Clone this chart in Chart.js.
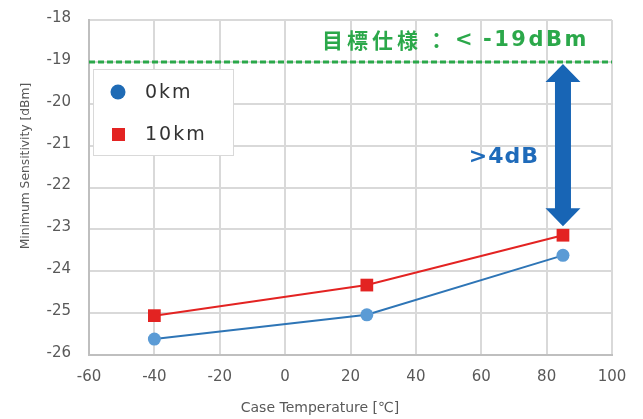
<!DOCTYPE html>
<html>
<head>
<meta charset="utf-8">
<script src="https://cdn.jsdelivr.net/npm/chart.js@4.4.0/dist/chart.umd.min.js"></script>
<style>
html,body{margin:0;padding:0;background:#fff;}
#wrap{width:643px;height:419px;position:relative;}
</style>
</head>
<body>
<div id="wrap"><canvas id="c" width="643" height="419"></canvas></div>
<script>
const temperatures = [-40, 25, 85];
const sens0km = [-25.62, -25.04, -23.62];
const sens10km = [-25.06, -24.33, -23.14];
const seriesNames = ['0km', '10km'];
const specLimit = -19;
const specLabelParts = ['目標仕様', '：', '<', '-19dBm'];
const marginLabel = '>4dB';
const xTitle = 'Case Temperature [℃]';
const yTitle = 'Minimum Sensitivity [dBm]';

const toPts = (xs, ys) => xs.map((x, i) => ({x: x, y: ys[i]}));

const overlay = {
  id: 'overlay',
  afterDatasetsDraw(chart) {
    const ctx = chart.ctx, xs = chart.scales.x, ys = chart.scales.y, a = chart.chartArea;
    ctx.save();
    // axis titles
    ctx.fillStyle = '#595959';
    ctx.font = '14px "DejaVu Sans"';
    ctx.textAlign = 'center';
    ctx.textBaseline = 'middle';
    ctx.fillText(xTitle, 320, 408);
    ctx.save();
    ctx.translate(26, 166);
    ctx.rotate(-Math.PI / 2);
    ctx.font = '12.3px "DejaVu Sans"';
    ctx.fillText(yTitle, 0, 0);
    ctx.restore();
    // spec line
    const yl = ys.getPixelForValue(specLimit);
    ctx.strokeStyle = '#2BA84A';
    ctx.lineWidth = 3;
    ctx.setLineDash([6, 3]);
    ctx.beginPath(); ctx.moveTo(a.left, yl); ctx.lineTo(a.right, yl); ctx.stroke();
    ctx.setLineDash([]);
    // spec label
    ctx.fillStyle = '#2BA84A';
    ctx.textAlign = 'left';
    ctx.font = 'bold 21px "Noto Sans CJK JP"';
    ctx.letterSpacing = '4px';
    ctx.fillText(specLabelParts[0], 322, 40);
    ctx.letterSpacing = '0px';
    ctx.fillText(specLabelParts[1], 426, 40);
    ctx.font = 'bold 21px "DejaVu Sans"';
    ctx.fillText(specLabelParts[2], 455, 41);
    ctx.letterSpacing = '2.5px';
    ctx.fillText(specLabelParts[3], 483, 41);
    // arrow
    const ax = xs.getPixelForValue(85);
    const yTop = yl + 2, yBot = ys.getPixelForValue(sens10km[2]) - 9;
    const hw = 17.5, hh = 18, sw = 8;
    ctx.fillStyle = '#1865B5';
    ctx.beginPath();
    ctx.moveTo(ax, yTop);
    ctx.lineTo(ax + hw, yTop + hh);
    ctx.lineTo(ax + sw, yTop + hh);
    ctx.lineTo(ax + sw, yBot - hh);
    ctx.lineTo(ax + hw, yBot - hh);
    ctx.lineTo(ax, yBot);
    ctx.lineTo(ax - hw, yBot - hh);
    ctx.lineTo(ax - sw, yBot - hh);
    ctx.lineTo(ax - sw, yTop + hh);
    ctx.lineTo(ax - hw, yTop + hh);
    ctx.closePath();
    ctx.fill();
    // margin label
    ctx.fillStyle = '#1F6BBA';
    ctx.font = 'bold 22px "DejaVu Sans"';
    ctx.letterSpacing = '1px';
    ctx.textAlign = 'right';
    ctx.fillText(marginLabel, ax - 24, 157);
    // legend
    ctx.letterSpacing = '2px';
    ctx.fillStyle = '#ffffff';
    ctx.fillRect(93.5, 69.5, 140, 86);
    ctx.strokeStyle = '#d9d9d9';
    ctx.lineWidth = 1;
    ctx.strokeRect(93.5, 69.5, 140, 86);
    ctx.fillStyle = '#1F6BB5';
    ctx.beginPath(); ctx.arc(118, 92, 7.5, 0, Math.PI * 2); ctx.fill();
    ctx.fillStyle = '#E32322';
    ctx.fillRect(112, 128, 13, 13);
    ctx.fillStyle = '#333333';
    ctx.font = '19px "DejaVu Sans"';
    ctx.textAlign = 'left';
    ctx.fillText(seriesNames[0], 145, 93);
    ctx.fillText(seriesNames[1], 145, 135);
    ctx.restore();
  }
};

new Chart(document.getElementById('c'), {
  type: 'scatter',
  data: {
    datasets: [
      {
        label: seriesNames[0],
        data: toPts(temperatures, sens0km),
        showLine: true,
        borderColor: '#2E75B6',
        borderWidth: 2,
        backgroundColor: '#5B9BD5',
        pointBackgroundColor: '#5B9BD5',
        pointBorderColor: '#5B9BD5',
        pointStyle: 'circle',
        pointRadius: 6.5,
        pointBorderWidth: 0
      },
      {
        label: seriesNames[1],
        data: toPts(temperatures, sens10km),
        showLine: true,
        borderColor: '#E32322',
        borderWidth: 2,
        backgroundColor: '#E32322',
        pointBackgroundColor: '#E32322',
        pointBorderColor: '#E32322',
        pointStyle: 'rect',
        pointRadius: 9,
        pointBorderWidth: 0
      }
    ]
  },
  options: {
    responsive: false,
    animation: false,
    layout: {padding: {top: 20, right: 31, left: 0, bottom: 0}},
    plugins: {legend: {display: false}, tooltip: {enabled: false}},
    scales: {
      x: {
        type: 'linear', min: -60, max: 100,
        ticks: {stepSize: 20, color: '#595959', font: {family: 'DejaVu Sans', size: 15}, padding: 13},
        grid: {color: '#d9d9d9', lineWidth: 2, drawTicks: false},
        border: {color: '#bfbfbf', width: 2},
        title: {display: false},
        afterFit(s) { s.height = 64; }
      },
      y: {
        type: 'linear', min: -26, max: -18,
        ticks: {stepSize: 1, color: '#595959', font: {family: 'DejaVu Sans', size: 15}, padding: 2, labelOffset: -2},
        grid: {color: '#d9d9d9', lineWidth: 2, drawTicks: true, tickLength: 16, tickColor: 'rgba(0,0,0,0)'},
        border: {color: '#bfbfbf', width: 2},
        title: {display: false},
        afterFit(s) { s.width = 89; }
      }
    }
  },
  plugins: [overlay]
});
</script>
</body>
</html>
